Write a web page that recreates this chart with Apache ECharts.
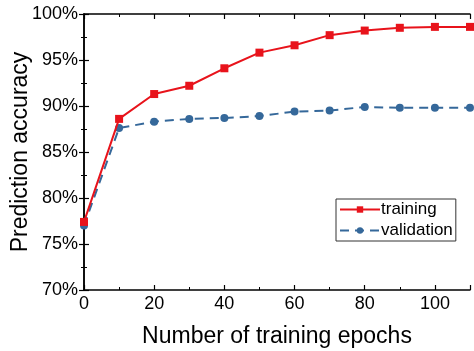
<!DOCTYPE html>
<html>
<head>
<meta charset="utf-8">
<script src="https://cdn.jsdelivr.net/npm/echarts@6/dist/echarts.min.js"></script>
<style>
  html, body { margin: 0; padding: 0; background: #fff; }
  #chart { width: 474px; height: 351px; }
</style>
</head>
<body>
<div id="chart"></div>
<script>
var epochs     = [0, 10, 20, 30, 40, 50, 60, 70, 80, 90, 100, 110];
var training   = [77.4, 88.6, 91.3, 92.2, 94.1, 95.8, 96.6, 97.7, 98.2, 98.5, 98.6, 98.6];
var validation = [77.0, 87.6, 88.3, 88.6, 88.7, 88.9, 89.4, 89.5, 89.9, 89.8, 89.8, 89.8];

function pairs(xs, ys) {
	var out = [];
	for (var i = 0; i < xs.length; i++) {
		out.push([xs[i], ys[i]]);
	}
	return out;
}

var font = 'Liberation Sans, Arial, sans-serif';
var axisLine = { show: true, lineStyle: { color: '#000', width: 1.5 } };
var tick = { show: true, inside: true, length: 5, lineStyle: { color: '#000', width: 1.2 } };
var minor = { show: true, splitNumber: 2, length: 3, lineStyle: { color: '#000', width: 1 } };

var chart = echarts.init(document.getElementById('chart'));
chart.setOption({
	animation: false,
	textStyle: { fontFamily: font },
	grid: { left: 84, right: 4, top: 14, bottom: 61, outerBoundsMode: 'none', containLabel: false },
	legend: {
		left: 336,
		top: 199,
		orient: 'vertical',
		itemWidth: 40,
		itemHeight: 8,
		itemGap: 4,
		padding: [2, 3, 2, 3],
		borderColor: '#333',
		borderWidth: 1,
		borderRadius: 0,
		textStyle: { fontSize: 17, color: '#000', fontFamily: font, padding: [0, 0, 0, -4] },
		data: ['training', 'validation']
	},
	xAxis: [
		{
			type: 'value', min: 0, max: 110, interval: 20,
			name: 'Number of training epochs', nameLocation: 'middle', nameGap: 35,
			nameMoveOverlap: false,
			nameTextStyle: { fontSize: 23, color: '#000' },
			axisLine: axisLine, axisTick: tick, minorTick: minor,
			axisLabel: { fontSize: 18, color: '#000', margin: 5, showMaxLabel: false },
			splitLine: { show: false }
		},
		{
			type: 'value', min: 0, max: 110, interval: 20, position: 'top',
			axisLine: axisLine, axisTick: tick, minorTick: minor,
			axisLabel: { show: false }, splitLine: { show: false }
		}
	],
	yAxis: [
		{
			type: 'value', min: 70, max: 100, interval: 5,
			name: 'Prediction accuracy', nameLocation: 'middle', nameGap: 52,
			nameMoveOverlap: false,
			nameTextStyle: { fontSize: 23, color: '#000' },
			axisLine: axisLine, axisTick: tick, minorTick: minor,
			axisLabel: { fontSize: 18, color: '#000', margin: 6, formatter: '{value}%' },
			splitLine: { show: false }
		},
		{
			type: 'value', min: 70, max: 100, interval: 5, position: 'right',
			axisLine: axisLine, axisTick: tick, minorTick: minor,
			axisLabel: { show: false }, splitLine: { show: false }
		}
	],
	series: [
		{
			name: 'training',
			type: 'line',
			data: pairs(epochs, training),
			symbol: 'rect',
			symbolSize: 8,
			itemStyle: { color: '#e8131b' },
			lineStyle: { color: '#e8131b', width: 2 },
			z: 3
		},
		{
			name: 'validation',
			type: 'line',
			data: pairs(epochs, validation),
			symbol: 'circle',
			symbolSize: 8,
			itemStyle: { color: '#35689a' },
			lineStyle: { color: '#35689a', width: 2, type: [9, 6] },
			z: 2
		}
	]
});
</script>
</body>
</html>
